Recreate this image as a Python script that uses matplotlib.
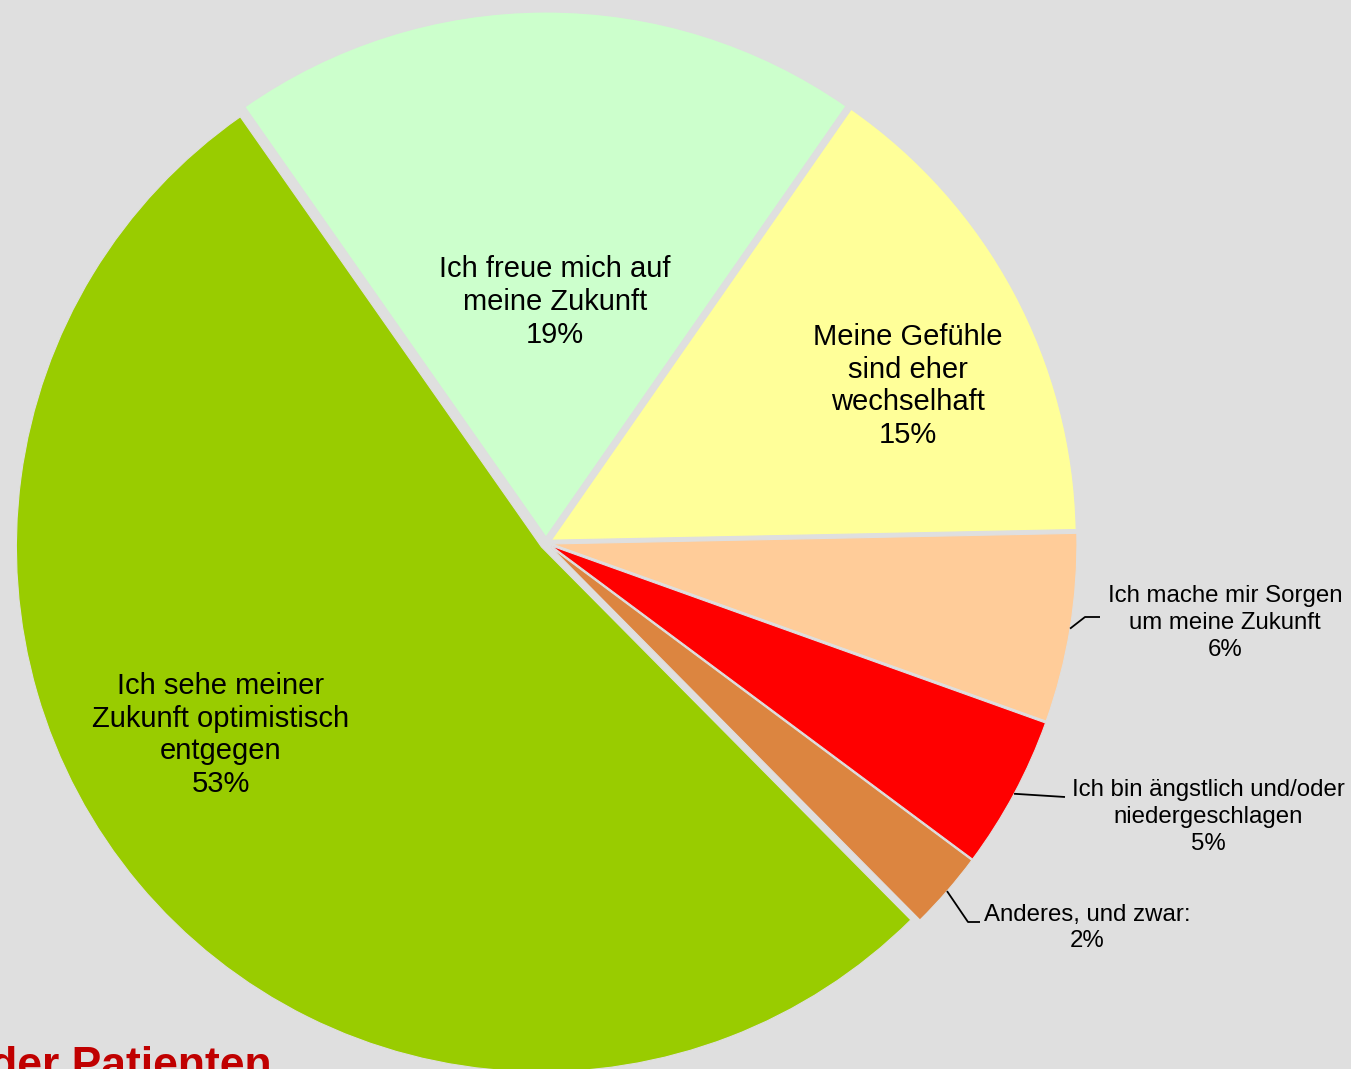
import numpy as np
import matplotlib.pyplot as plt

# --- data ---
slice_labels = [
    "Ich freue mich auf\nmeine Zukunft",
    "Meine Gefühle\nsind eher\nwechselhaft",
    "Ich mache mir Sorgen\num meine Zukunft",
    "Ich bin ängstlich und/oder\nniedergeschlagen",
    "Anderes, und zwar:",
    "Ich sehe meiner\nZukunft optimistisch\nentgegen",
]
shares = [19.4, 15.0, 5.8, 4.7, 2.4, 52.7]
colors = ["#CCFFCC", "#FFFF99", "#FFCC99", "#FF0000", "#DC8540", "#99CC00"]

BG = "#DFDFDF"
W, H = 1351, 1069

plt.rcParams['font.family'] = ['Liberation Sans', 'DejaVu Sans']

fig = plt.figure(figsize=(W / 100, H / 100), dpi=100)
fig.patch.set_facecolor(BG)
ax = fig.add_axes([0, 0, 1, 1])

cx, cy, r = 546, 526, 525
wedges, _ = ax.pie(shares, colors=colors, startangle=125.0, counterclock=False,
                   radius=r, center=(cx, cy), explode=[6] * len(shares),
                   wedgeprops=dict(edgecolor=BG, linewidth=0.8))
ax.set_xlim(0, W)
ax.set_ylim(0, H)
ax.set_aspect('equal')
ax.axis('off')

# label placement (pixel coords, y from bottom)
inside_pos = {0: (555, 767), 1: (908, 683), 5: (221, 334)}
outside_pos = {2: (1225, 446), 3: (1208, 252), 4: (1087, 141)}
# leader line bend/end points
leader_pts = {
    2: [(1085, 452), (1100, 452)],
    3: [(1065, 272)],
    4: [(968, 147), (980, 147)],
}

for i, (lab, val) in enumerate(zip(slice_labels, shares)):
    txt = f"{lab}\n{round(val):.0f}%"
    if i in inside_pos:
        x, y = inside_pos[i]
        ax.text(x, y, txt, ha='center', va='center', multialignment='center',
                fontsize=21, linespacing=1.21, color='black')
    else:
        x, y = outside_pos[i]
        ax.text(x, y, txt, ha='center', va='center', multialignment='center',
                fontsize=17.3, linespacing=1.28, color='black')
        w = wedges[i]
        mid = np.deg2rad((w.theta1 + w.theta2) / 2)
        ex = w.center[0] + r * np.cos(mid)
        ey = w.center[1] + r * np.sin(mid)
        pts = [(ex, ey)] + leader_pts[i]
        ax.plot([p[0] for p in pts], [p[1] for p in pts], color='black', lw=1.3,
                solid_capstyle='butt')

# title fragment cut off at the bottom
ax.text(272, -9, "der Patienten", ha='right', va='baseline', fontsize=32,
        fontweight='bold', color='#C00000')

fig.savefig("out.png", dpi=100, facecolor=BG)
